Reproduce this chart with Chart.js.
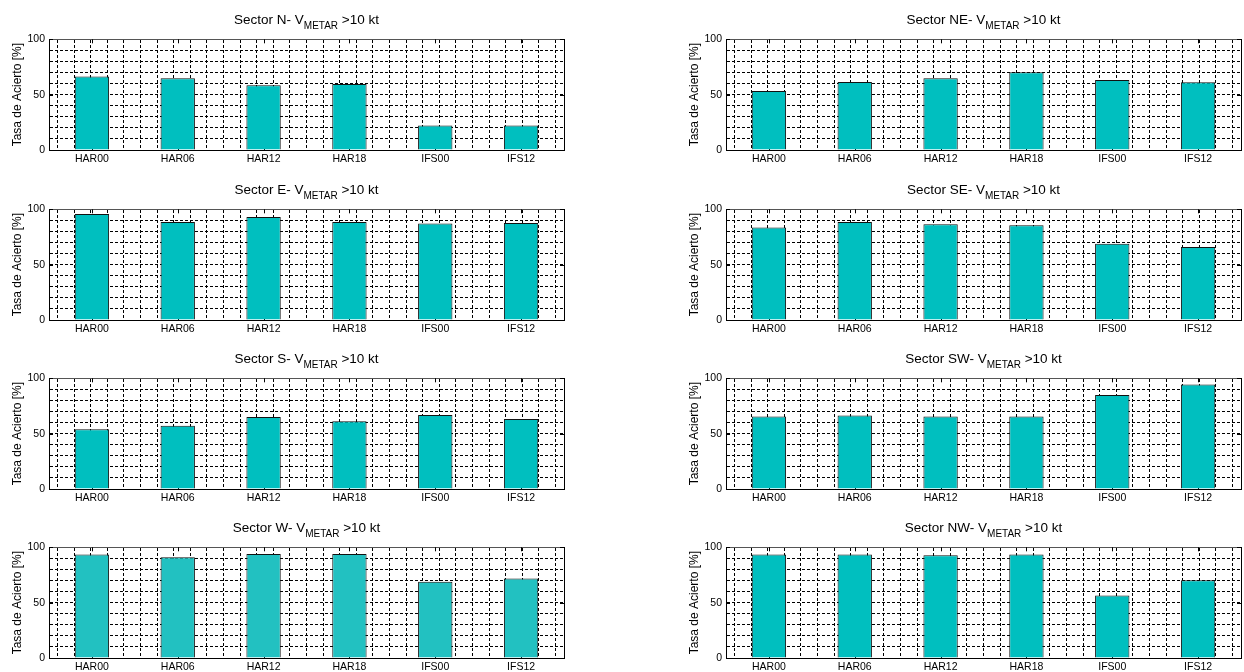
<!DOCTYPE html>
<html>
<head>
<meta charset="utf-8">
<script src="https://cdn.jsdelivr.net/npm/chart.js@4.4.1/dist/chart.umd.min.js"></script>
<style>
  body { margin: 0; background: #fff; width: 1244px; height: 672px; position: relative; overflow: hidden;
         font-family: "Liberation Sans", Arial, sans-serif; }
  canvas { position: absolute; }
  .ttl { position: absolute; white-space: nowrap; font-size: 13.5px; line-height: 16px; color: #000;
         transform: translateX(-50%); }
  .ttl span { font-size: 10px; position: relative; top: 5px; }
</style>
</head>
<body>
<script>
const categories = ["HAR00", "HAR06", "HAR12", "HAR18", "IFS00", "IFS12"];
const sectors = ["N", "NE", "E", "SE", "S", "SW", "W", "NW"];

const valsN  = [66.3, 64.9, 58.6, 59.7, 22.2, 22.2];
const valsNE = [53.4, 61.5, 64.9, 70.3, 63.3, 61.3];
const valsE  = [95.8, 88.6, 93.1, 88.6, 87.1, 87.7];
const valsSE = [83.5, 88.6, 86.5, 85.6, 68.9, 65.9];
const valsS  = [53.9, 57.2, 65.0, 61.1, 66.8, 63.2];
const valsSW = [65.6, 66.5, 65.6, 65.6, 85.0, 94.3];
const valsW  = [93.4, 91.0, 94.0, 94.0, 68.8, 71.8];
const valsNW = [93.4, 93.4, 92.8, 93.4, 56.5, 70.3];
const sectorValues = [valsN, valsNE, valsE, valsSE, valsS, valsSW, valsW, valsNW];

const yLabelTicks = [0, 50, 100];

// layout of the 4x2 grid of panels (plot area corners)
const colLeft = [49, 726];
const rowTop = [39, 209, 378, 547];
const PLOT_W = 515, PLOT_H = 111;
const PAD_L = 49, PAD_T = 10, PAD_R = 6, PAD_B = 22;

Chart.defaults.font.family = '"Liberation Sans", Arial, sans-serif';
Chart.defaults.color = "#000";

// minor vertical grid every 0.2 between the bars
const gridX = [];
for (let k = 3; k <= 32; k++) gridX.push(k / 5);

const innerTicks = {
  id: "innerTicks",
  beforeDatasetsDraw(chart) {
    const { ctx, chartArea: a, scales } = chart;
    ctx.save();
    ctx.strokeStyle = "#000";
    ctx.lineWidth = 1;
    ctx.beginPath();
    categories.forEach((c, i) => {
      const x = Math.round(scales.x.getPixelForValue(i)) + 0.5;
      ctx.moveTo(x, a.top); ctx.lineTo(x, a.top + 4);
      ctx.moveTo(x, a.bottom); ctx.lineTo(x, a.bottom - 4);
    });
    yLabelTicks.forEach(v => {
      const y = Math.round(scales.y.getPixelForValue(v)) + 0.5;
      ctx.moveTo(a.left, y); ctx.lineTo(a.left + 4, y);
      ctx.moveTo(a.right, y); ctx.lineTo(a.right - 4, y);
    });
    ctx.stroke();
    ctx.restore();
  }
};

function makePanel(idx) {
  const col = idx % 2, row = Math.floor(idx / 2);
  const left = colLeft[col], top = rowTop[row];

  const cv = document.createElement("canvas");
  cv.width = PAD_L + PLOT_W + PAD_R;
  cv.height = PAD_T + PLOT_H + PAD_B;
  cv.style.left = (left - PAD_L) + "px";
  cv.style.top = (top - PAD_T) + "px";
  document.body.appendChild(cv);

  const ttl = document.createElement("div");
  ttl.className = "ttl";
  ttl.style.left = (left + PLOT_W / 2) + "px";
  ttl.style.top = (top - 27) + "px";
  ttl.innerHTML = "Sector " + sectors[idx] + "- V<span>METAR</span> &gt;10 kt";
  document.body.appendChild(ttl);

  const fill = sectors[idx] === "W" ? "#22C1C1" : "#00BFBF";

  new Chart(cv, {
    type: "bar",
    data: {
      labels: categories,
      datasets: [{
        data: sectorValues[idx],
        backgroundColor: fill,
        borderColor: "#111",
        borderWidth: 1,
        categoryPercentage: 0.4,
        barPercentage: 1.0,
        xAxisID: "x",
        yAxisID: "y"
      }]
    },
    options: {
      responsive: false,
      animation: false,
      layout: { padding: { left: 0, top: PAD_T, right: PAD_R, bottom: 0 } },
      plugins: { legend: { display: false }, tooltip: { enabled: false } },
      scales: {
        x: {
          type: "category",
          position: "bottom",
          offset: true,
          grid: { display: false, drawTicks: false },
          border: { color: "#000" },
          ticks: { font: { size: 10.5 }, padding: 3, maxRotation: 0, autoSkip: false },
          afterFit: s => { s.height = PAD_B; }
        },
        xg: {
          type: "linear",
          position: "top",
          min: 0.5,
          max: 6.5,
          afterBuildTicks: s => { s.ticks = gridX.map(v => ({ value: v })); },
          ticks: { display: false },
          grid: { color: "#000", drawTicks: false },
          border: { color: "#555", dash: [3, 2] },
          afterFit: s => { s.height = 0; }
        },
        y: {
          min: 0,
          max: 100,
          ticks: { stepSize: 10, autoSkip: false, font: { size: 10.5 }, padding: 4,
                   callback: v => (v % 50 === 0 ? v : "") },
          grid: { color: "#000", drawTicks: false },
          border: { color: "#000", dash: [3, 2] },
          title: { display: true, text: "Tasa de Acierto [%]", font: { size: 12 },
                   padding: { top: 10, bottom: 0 } },
          afterFit: s => { s.width = PAD_L; }
        },
        yr: {
          type: "linear",
          position: "right",
          min: 0,
          max: 100,
          ticks: { display: false },
          grid: { display: false, drawTicks: false },
          border: { color: "#000" },
          afterFit: s => { s.width = 0; }
        }
      }
    },
    plugins: [innerTicks]
  });
}

for (let i = 0; i < sectors.length; i++) makePanel(i);
</script>
</body>
</html>
